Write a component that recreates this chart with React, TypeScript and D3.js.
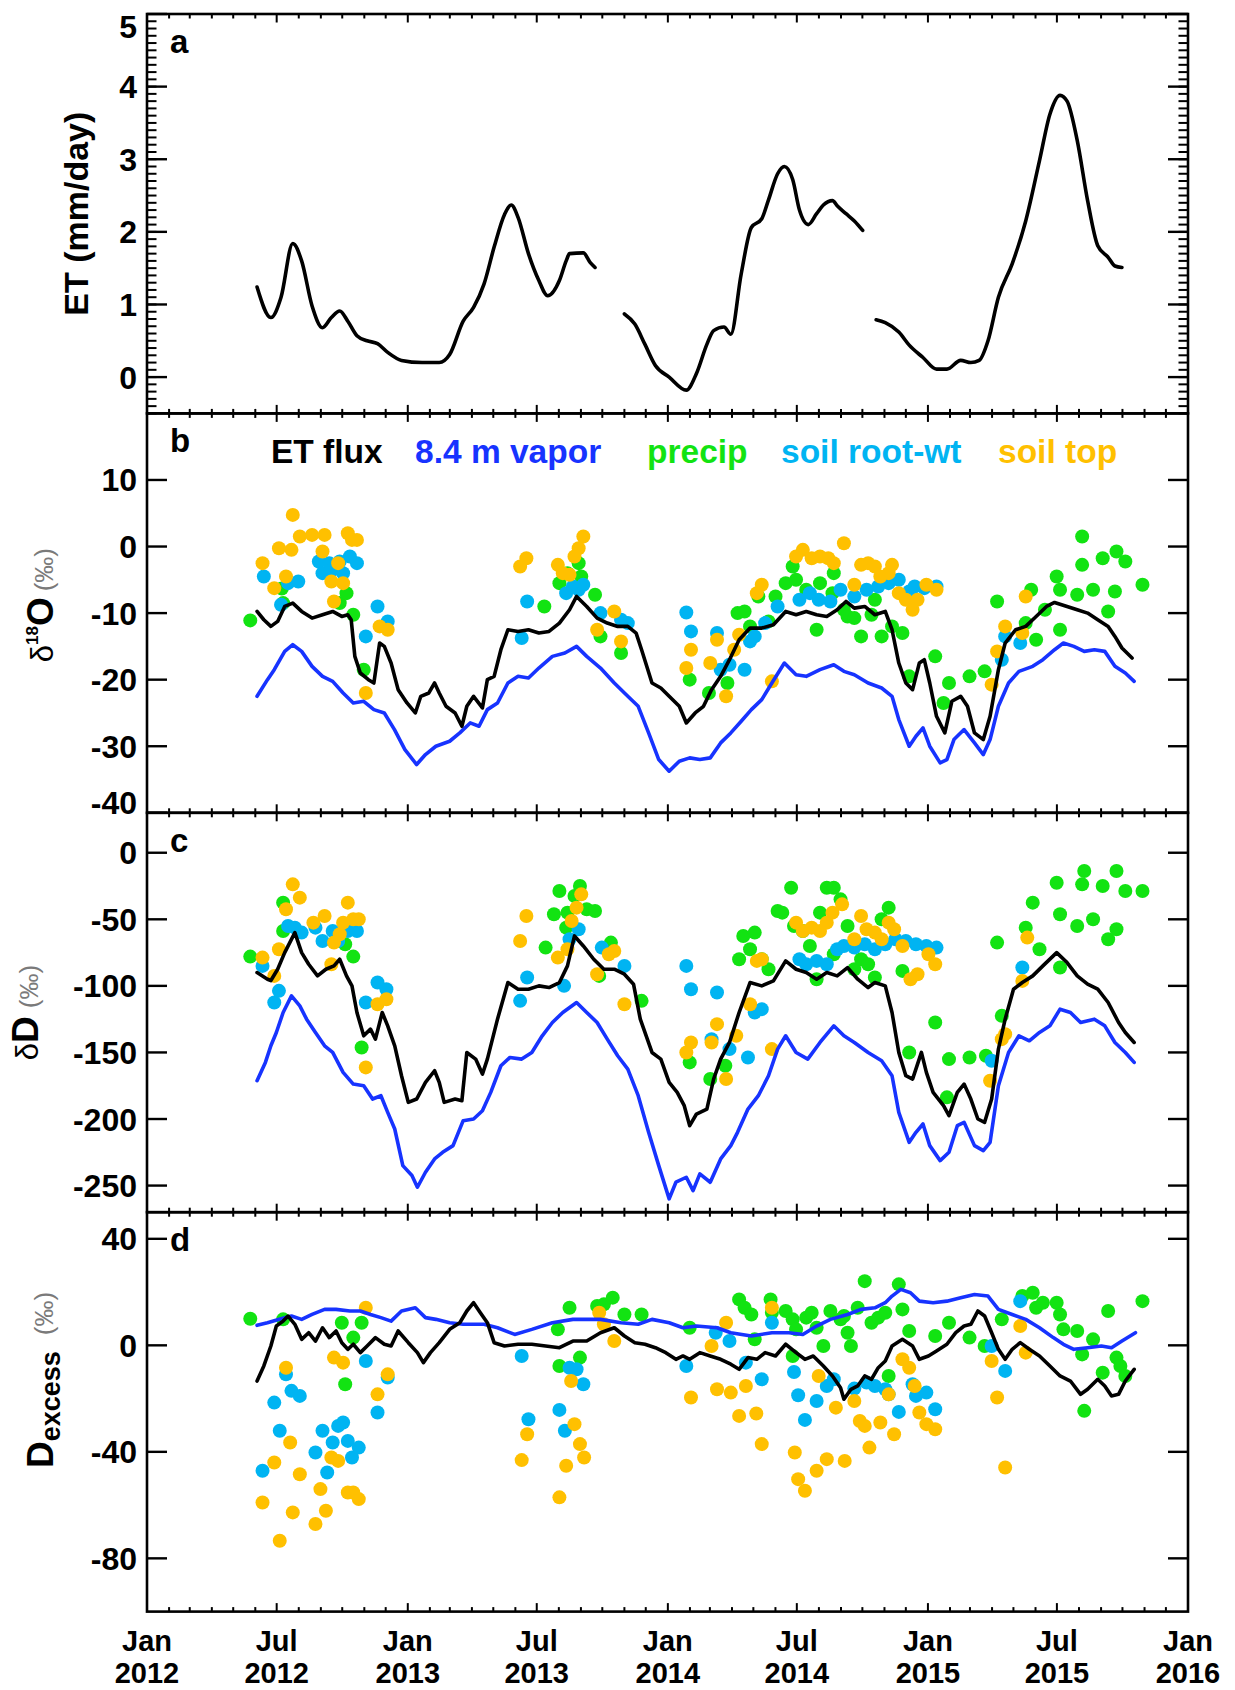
import React from "react";
import * as d3 from "d3";

type Pt = [number, number];

// ---------- panel a: evapotranspiration (mm/day), three smoothed segments ----------
const etSeg1: Pt[] = [
  [2012.422, 1.24], [2012.475, 0.82], [2012.514, 1.1], [2012.559, 1.84], [2012.593, 1.6],
  [2012.633, 0.98], [2012.673, 0.68], [2012.707, 0.82], [2012.739, 0.91], [2012.77, 0.77],
  [2012.805, 0.57], [2012.844, 0.5], [2012.884, 0.46], [2012.923, 0.34], [2012.976, 0.23],
  [2013.055, 0.2], [2013.121, 0.2], [2013.161, 0.31], [2013.213, 0.77], [2013.253, 0.96],
  [2013.293, 1.28], [2013.332, 1.79], [2013.372, 2.24], [2013.398, 2.37], [2013.424, 2.2],
  [2013.464, 1.7], [2013.504, 1.33], [2013.538, 1.12], [2013.583, 1.33], [2013.609, 1.6],
  [2013.622, 1.7], [2013.675, 1.71], [2013.701, 1.58], [2013.72, 1.51],
];
const etSeg2: Pt[] = [
  [2013.833, 0.87], [2013.873, 0.73], [2013.912, 0.45], [2013.952, 0.16], [2014.005, 0.0],
  [2014.071, -0.18], [2014.11, 0.05], [2014.15, 0.45], [2014.176, 0.64], [2014.216, 0.69],
  [2014.242, 0.59], [2014.282, 1.42], [2014.321, 2.06], [2014.361, 2.18], [2014.387, 2.44],
  [2014.422, 2.8], [2014.448, 2.9], [2014.48, 2.72], [2014.506, 2.3], [2014.54, 2.1],
  [2014.572, 2.25], [2014.598, 2.37], [2014.633, 2.43], [2014.651, 2.36], [2014.685, 2.25],
  [2014.717, 2.15], [2014.749, 2.02],
];
const etSeg3: Pt[] = [
  [2014.801, 0.79], [2014.836, 0.75], [2014.888, 0.62], [2014.928, 0.44], [2014.981, 0.27],
  [2015.033, 0.11], [2015.073, 0.11], [2015.126, 0.23], [2015.165, 0.2], [2015.197, 0.23],
  [2015.231, 0.5], [2015.271, 1.1], [2015.324, 1.56], [2015.376, 2.15], [2015.429, 2.98],
  [2015.469, 3.62], [2015.508, 3.88], [2015.535, 3.8], [2015.574, 3.26], [2015.614, 2.43],
  [2015.653, 1.81], [2015.693, 1.65], [2015.719, 1.53], [2015.746, 1.51],
];

// ---------- panel b: d18O (permil) ----------
const d18oFlux: Pt[] = [
  [2012.422, -9.75], [2012.448, -11], [2012.475, -12], [2012.501, -11.25], [2012.528, -9],
  [2012.559, -8.5], [2012.593, -9.75], [2012.633, -10.75], [2012.673, -10.25], [2012.712, -9.75],
  [2012.747, -10.5], [2012.77, -10.25], [2012.783, -11], [2012.797, -16.5], [2012.818, -19],
  [2012.849, -20], [2012.87, -20.5], [2012.892, -14.5], [2012.91, -15], [2012.936, -17.5],
  [2012.963, -21.5], [2012.997, -23.5], [2013.029, -25], [2013.05, -22.5], [2013.081, -22],
  [2013.103, -20.5], [2013.121, -22], [2013.147, -24], [2013.182, -25], [2013.208, -27],
  [2013.227, -24], [2013.253, -22.5], [2013.287, -24.25], [2013.306, -20], [2013.332, -19.5],
  [2013.358, -15.5], [2013.385, -12.5], [2013.424, -12.75], [2013.464, -12.5], [2013.504, -13],
  [2013.543, -12.75], [2013.583, -11.5], [2013.622, -9.5], [2013.649, -7.5], [2013.688, -9],
  [2013.728, -10.75], [2013.767, -11.5], [2013.807, -12], [2013.846, -12], [2013.878, -13],
  [2013.899, -15.5], [2013.939, -20.5], [2013.973, -21.25], [2014.005, -22.5], [2014.044, -24],
  [2014.071, -26.5], [2014.105, -25], [2014.137, -24], [2014.168, -21.5], [2014.203, -19.5],
  [2014.237, -17], [2014.274, -14], [2014.316, -12.25], [2014.361, -12.25], [2014.406, -11.75],
  [2014.453, -9.75], [2014.493, -10.25], [2014.532, -9.75], [2014.572, -10.25], [2014.611, -10.5],
  [2014.651, -9.5], [2014.685, -8.25], [2014.717, -9.25], [2014.757, -9], [2014.796, -10.25],
  [2014.836, -9.75], [2014.862, -12.5], [2014.888, -17.5], [2014.915, -20.5], [2014.941, -21.5],
  [2014.967, -17.5], [2014.986, -17], [2015.007, -20.5], [2015.033, -25.5], [2015.065, -28],
  [2015.092, -23.25], [2015.126, -22.5], [2015.152, -24], [2015.179, -28], [2015.213, -29],
  [2015.239, -25.5], [2015.271, -18.5], [2015.297, -14.5], [2015.337, -12.5], [2015.376, -12],
  [2015.416, -10.5], [2015.456, -9], [2015.487, -8.4], [2015.535, -9], [2015.574, -9.5],
  [2015.614, -10], [2015.653, -11], [2015.693, -12], [2015.719, -13.5], [2015.746, -15.25],
  [2015.785, -16.75],
];
const d18oVapor: Pt[] = [
  [2012.422, -22.5], [2012.462, -20], [2012.488, -18.5], [2012.528, -15.75], [2012.559, -14.75],
  [2012.593, -15.75], [2012.633, -18], [2012.673, -19.5], [2012.712, -20.25], [2012.752, -22],
  [2012.791, -23.5], [2012.831, -23.25], [2012.87, -24.5], [2012.91, -25], [2012.949, -27.5],
  [2012.989, -30.5], [2013.034, -32.75], [2013.068, -31.25], [2013.108, -30], [2013.161, -29.25],
  [2013.2, -28], [2013.24, -26.5], [2013.274, -27], [2013.306, -24.5], [2013.345, -23.5],
  [2013.385, -20.5], [2013.424, -19.5], [2013.464, -19.75], [2013.504, -18.25], [2013.556, -16.5],
  [2013.604, -16], [2013.649, -15], [2013.688, -16.5], [2013.741, -18.25], [2013.794, -20.5],
  [2013.846, -22.5], [2013.886, -24], [2013.926, -28], [2013.965, -32], [2014.005, -33.75],
  [2014.044, -32.25], [2014.084, -31.75], [2014.123, -32], [2014.163, -31.75], [2014.203, -29.5],
  [2014.242, -28], [2014.282, -26.25], [2014.321, -24.5], [2014.361, -23], [2014.4, -20.5],
  [2014.448, -17.5], [2014.493, -19.25], [2014.532, -19.5], [2014.585, -18.5], [2014.638, -17.75],
  [2014.677, -18.75], [2014.717, -19.25], [2014.77, -20.5], [2014.822, -21.25], [2014.862, -22.5],
  [2014.888, -26], [2014.928, -30], [2014.954, -28.5], [2014.981, -27.25], [2015.007, -30],
  [2015.047, -32.5], [2015.073, -32], [2015.1, -29], [2015.139, -27.5], [2015.179, -29.5],
  [2015.213, -31.25], [2015.239, -29], [2015.271, -24], [2015.31, -20.5], [2015.35, -18.75],
  [2015.403, -18], [2015.442, -17], [2015.487, -15.5], [2015.521, -14.5], [2015.561, -15],
  [2015.601, -15.75], [2015.64, -15.5], [2015.68, -15.75], [2015.719, -18], [2015.759, -19],
  [2015.793, -20.25],
];
const d18oPrecip: Pt[] = [
  [2012.396, -11.1], [2012.522, -8.5], [2012.517, -6.3], [2012.739, -8.5], [2012.765, -7],
  [2012.791, -10.25], [2012.831, -18.5], [2013.525, -9], [2013.583, -5.5], [2013.614, -4],
  [2013.657, -2.5], [2013.667, -4.5], [2013.72, -7.25], [2013.741, -13.5], [2013.82, -16],
  [2014.084, -20], [2014.158, -22], [2014.229, -20.5], [2014.268, -10], [2014.295, -9.75],
  [2014.316, -12], [2014.348, -7.5], [2014.387, -11.25], [2014.414, -7.5], [2014.453, -5.5],
  [2014.48, -3], [2014.493, -5], [2014.532, -6.5], [2014.572, -12.5], [2014.585, -5.5],
  [2014.633, -7], [2014.638, -4], [2014.677, -9.5], [2014.691, -10.5], [2014.717, -10.75],
  [2014.743, -13.5], [2014.783, -10.25], [2014.796, -8], [2014.822, -13.5], [2014.862, -12],
  [2014.902, -13], [2014.928, -19.5], [2015.028, -16.5], [2015.06, -23.5], [2015.081, -20.5],
  [2015.16, -19.5], [2015.218, -18.75], [2015.266, -8.25], [2015.376, -11.5], [2015.397, -6.5],
  [2015.416, -14], [2015.45, -9.5], [2015.495, -4.5], [2015.508, -6.5], [2015.508, -12.5],
  [2015.574, -7.25], [2015.593, -2.75], [2015.593, 1.5], [2015.635, -6.5], [2015.672, -1.75],
  [2015.693, -9.75], [2015.719, -6.75], [2015.725, -0.75], [2015.759, -2.25], [2015.825, -5.75],
];
const d18oRoot: Pt[] = [
  [2012.448, -4.5], [2012.514, -8.75], [2012.541, -5.5], [2012.58, -5.25], [2012.659, -2.25],
  [2012.673, -4], [2012.699, -2.5], [2012.712, -3.5], [2012.739, -2.25], [2012.752, -4],
  [2012.778, -1.5], [2012.805, -2.5], [2012.839, -13.5], [2012.884, -9], [2012.923, -11.25],
  [2013.438, -13.75], [2013.459, -8.25], [2013.609, -7], [2013.635, -6], [2013.657, -6.5],
  [2013.675, -5.75], [2013.741, -10], [2013.82, -11], [2013.846, -11.5], [2014.071, -9.9],
  [2014.089, -12.75], [2014.189, -13], [2014.203, -18.5], [2014.237, -17.75], [2014.295, -18.5],
  [2014.316, -14.25], [2014.334, -13.5], [2014.374, -11.5], [2014.422, -9], [2014.506, -8],
  [2014.546, -7], [2014.58, -8], [2014.625, -8.25], [2014.664, -6.5], [2014.717, -7.5],
  [2014.764, -6.5], [2014.809, -6], [2014.849, -5.5], [2014.888, -5], [2014.928, -6.75],
  [2014.949, -6], [2014.986, -6.25], [2015.033, -6], [2015.284, -17], [2015.297, -13.5],
  [2015.355, -14.5],
];
const d18oTop: Pt[] = [
  [2012.443, -2.5], [2012.488, -6.25], [2012.506, -0.25], [2012.533, -4.5], [2012.554, -0.5],
  [2012.559, 4.75], [2012.586, 1.5], [2012.633, 1.75], [2012.681, 1.75], [2012.673, -0.75],
  [2012.707, -5.25], [2012.717, -8.25], [2012.733, -2.5], [2012.752, -5.5], [2012.77, 2],
  [2012.786, 1], [2012.805, 1], [2012.839, -22], [2012.892, -12], [2012.923, -12.5],
  [2013.432, -3], [2013.456, -1.75], [2013.577, -2.75], [2013.596, -4], [2013.622, -4.25],
  [2013.641, -1.5], [2013.657, -0.25], [2013.675, 1.5], [2013.728, -12.5], [2013.794, -9.75],
  [2013.82, -14.25], [2014.071, -18.25], [2014.089, -15.5], [2014.163, -17.5], [2014.189, -14],
  [2014.224, -22.5], [2014.255, -15.5], [2014.274, -13.25], [2014.342, -7], [2014.361, -5.75],
  [2014.4, -20.25], [2014.493, -1.5], [2014.519, -0.5], [2014.553, -1.75], [2014.585, -1.5],
  [2014.617, -1.75], [2014.638, -2.5], [2014.677, 0.5], [2014.717, -5.75], [2014.743, -2.75],
  [2014.77, -2.5], [2014.796, -3], [2014.817, -4.5], [2014.849, -4], [2014.862, -2.75],
  [2014.888, -7], [2014.915, -8], [2014.941, -9.5], [2014.96, -8], [2014.994, -5.75],
  [2015.033, -6.5], [2015.245, -20.75], [2015.266, -15.75], [2015.297, -12], [2015.363, -13],
  [2015.376, -7.5],
];

// ---------- panel c: dD (permil) ----------
const dDFlux: Pt[] = [
  [2012.422, -90], [2012.462, -95], [2012.475, -96], [2012.501, -87.5], [2012.528, -75],
  [2012.567, -60], [2012.593, -75], [2012.62, -83.75], [2012.654, -92.5], [2012.686, -87.5],
  [2012.717, -85], [2012.739, -80], [2012.765, -92.5], [2012.786, -100], [2012.805, -120],
  [2012.831, -137.5], [2012.857, -132.5], [2012.876, -140], [2012.902, -120], [2012.923, -130],
  [2012.95, -145], [2012.976, -167.5], [2013.002, -187.5], [2013.034, -185], [2013.068, -172.5],
  [2013.103, -163.75], [2013.121, -172.5], [2013.14, -187.5], [2013.182, -185], [2013.208, -186.25],
  [2013.227, -150], [2013.261, -155], [2013.287, -166.25], [2013.306, -155], [2013.345, -125],
  [2013.385, -97.5], [2013.424, -102.5], [2013.464, -102.5], [2013.504, -100], [2013.543, -101.25],
  [2013.583, -97.5], [2013.614, -85], [2013.641, -62.5], [2013.675, -70], [2013.715, -80],
  [2013.754, -87.5], [2013.794, -87.5], [2013.833, -91.25], [2013.868, -98.75], [2013.894, -125],
  [2013.939, -150], [2013.973, -155], [2014.005, -172.5], [2014.036, -180], [2014.063, -190],
  [2014.084, -205], [2014.11, -196.25], [2014.15, -192.5], [2014.176, -170], [2014.203, -155],
  [2014.237, -142.5], [2014.274, -120], [2014.316, -97.5], [2014.361, -100], [2014.406, -96.25],
  [2014.453, -81.25], [2014.493, -87.5], [2014.532, -90], [2014.572, -95], [2014.611, -90],
  [2014.651, -92.5], [2014.691, -86.25], [2014.73, -95], [2014.77, -101.25], [2014.796, -97.5],
  [2014.836, -100], [2014.862, -120], [2014.888, -150], [2014.915, -167.5], [2014.941, -170],
  [2014.975, -150], [2014.994, -165], [2015.02, -180], [2015.06, -190], [2015.081, -197.5],
  [2015.113, -180], [2015.139, -173.75], [2015.165, -185], [2015.192, -200], [2015.218, -202.5],
  [2015.245, -185], [2015.271, -147.5], [2015.297, -125], [2015.329, -102.5], [2015.363, -97.5],
  [2015.403, -92.5], [2015.442, -85], [2015.495, -75], [2015.535, -82.5], [2015.574, -92.5],
  [2015.614, -98.75], [2015.653, -102.5], [2015.693, -112.5], [2015.733, -127.5], [2015.759, -135],
  [2015.793, -142.5],
];
const dDVapor: Pt[] = [
  [2012.422, -171.25], [2012.454, -157.5], [2012.475, -145], [2012.496, -135], [2012.522, -120],
  [2012.554, -107.5], [2012.586, -115], [2012.612, -125], [2012.646, -135], [2012.681, -145],
  [2012.712, -150], [2012.752, -165], [2012.791, -173.75], [2012.831, -175], [2012.865, -185],
  [2012.897, -182.5], [2012.923, -195], [2012.95, -207.5], [2012.981, -235], [2013.016, -242.5],
  [2013.037, -251.25], [2013.068, -240], [2013.103, -230], [2013.134, -225], [2013.174, -220],
  [2013.213, -201.25], [2013.253, -200], [2013.287, -193.75], [2013.319, -180], [2013.358, -160],
  [2013.393, -153.75], [2013.438, -155], [2013.477, -150], [2013.517, -137.5], [2013.556, -127.5],
  [2013.596, -120], [2013.649, -112.5], [2013.688, -120], [2013.728, -127.5], [2013.767, -140],
  [2013.807, -152.5], [2013.846, -162.5], [2013.886, -182.5], [2013.926, -210], [2013.965, -235],
  [2014.005, -260], [2014.031, -247.5], [2014.071, -243.75], [2014.097, -253.75], [2014.123, -241.25],
  [2014.163, -247.5], [2014.203, -230], [2014.242, -220], [2014.268, -210], [2014.308, -192.5],
  [2014.348, -182.5], [2014.387, -167.5], [2014.422, -147.5], [2014.453, -137.5], [2014.493, -150],
  [2014.538, -155], [2014.585, -142.5], [2014.638, -130], [2014.677, -137.5], [2014.717, -142.5],
  [2014.77, -150], [2014.822, -156.25], [2014.862, -167.5], [2014.888, -195], [2014.928, -217.5],
  [2014.954, -210], [2014.981, -203.75], [2015.007, -220], [2015.047, -231.25], [2015.081, -225],
  [2015.113, -205], [2015.139, -202.5], [2015.179, -220], [2015.213, -223.75], [2015.239, -217.5],
  [2015.271, -175], [2015.31, -150], [2015.35, -137.5], [2015.39, -141.25], [2015.429, -135],
  [2015.469, -130], [2015.508, -117.5], [2015.548, -120], [2015.587, -127.5], [2015.64, -125],
  [2015.68, -130], [2015.719, -142.5], [2015.759, -150], [2015.793, -157.5],
];
const dDPrecip: Pt[] = [
  [2012.396, -78], [2012.522, -37.5], [2012.522, -58.75], [2012.76, -68.75], [2012.791, -78],
  [2012.823, -146.25], [2013.53, -71.25], [2013.562, -46.25], [2013.583, -28.75], [2013.609, -56.25],
  [2013.614, -45], [2013.641, -32.5], [2013.662, -25], [2013.688, -42.5], [2013.72, -43.75],
  [2013.781, -67.5], [2013.736, -92.5], [2013.899, -111.25], [2014.084, -157.5], [2014.163, -170],
  [2014.221, -160], [2014.274, -80], [2014.29, -62.5], [2014.316, -72.5], [2014.334, -60],
  [2014.361, -80], [2014.387, -87.5], [2014.422, -43.75], [2014.44, -45], [2014.474, -26.25],
  [2014.485, -55], [2014.519, -58.75], [2014.546, -70], [2014.572, -95], [2014.585, -45],
  [2014.611, -26.25], [2014.638, -26.25], [2014.638, -76.25], [2014.664, -35], [2014.691, -55],
  [2014.717, -87.5], [2014.743, -80], [2014.77, -83.75], [2014.796, -93.75], [2014.822, -50],
  [2014.849, -41.25], [2014.902, -88.75], [2014.928, -150], [2015.028, -127.5], [2015.073, -183.75],
  [2015.081, -155], [2015.16, -153.75], [2015.223, -152.5], [2015.266, -67.5], [2015.284, -122.5],
  [2015.376, -56.25], [2015.403, -37.5], [2015.429, -72.5], [2015.495, -22.5], [2015.508, -46.25],
  [2015.508, -86.25], [2015.574, -55], [2015.593, -23.75], [2015.601, -13.75], [2015.635, -50],
  [2015.672, -25], [2015.693, -65], [2015.725, -57.5], [2015.725, -13.75], [2015.759, -28.75],
  [2015.825, -28.75],
];
const dDRoot: Pt[] = [
  [2012.443, -85], [2012.488, -112.5], [2012.506, -103.75], [2012.541, -55], [2012.567, -56.25],
  [2012.593, -60], [2012.646, -56.25], [2012.673, -66.25], [2012.712, -58.75], [2012.733, -66.25],
  [2012.77, -58.75], [2012.805, -58.75], [2012.839, -112.5], [2012.884, -97.5], [2012.918, -102.5],
  [2013.432, -111.25], [2013.459, -93.75], [2013.601, -100], [2013.622, -65], [2013.657, -57.5],
  [2013.746, -71.25], [2013.833, -85], [2014.071, -85], [2014.089, -102.5], [2014.189, -105],
  [2014.168, -140], [2014.237, -147.5], [2014.308, -153.75], [2014.334, -120], [2014.361, -117.5],
  [2014.506, -80], [2014.532, -83.75], [2014.572, -81.25], [2014.611, -83.75], [2014.651, -72.5],
  [2014.677, -70], [2014.717, -71.25], [2014.757, -68.75], [2014.796, -72.5], [2014.836, -68.75],
  [2014.875, -65], [2014.915, -66.25], [2014.954, -68.75], [2014.994, -70], [2015.033, -71.25],
  [2015.245, -156.25], [2015.363, -86.25],
];
const dDTop: Pt[] = [
  [2012.443, -78.75], [2012.488, -92.5], [2012.506, -72.5], [2012.533, -42.5], [2012.559, -23.75],
  [2012.586, -33.75], [2012.638, -52.5], [2012.681, -47.5], [2012.707, -83.75], [2012.717, -67.5],
  [2012.739, -61.25], [2012.752, -52.5], [2012.77, -37.5], [2012.791, -50], [2012.812, -50],
  [2012.839, -161.25], [2012.884, -113.75], [2012.918, -110], [2013.432, -66.25], [2013.456, -47.5],
  [2013.577, -78.75], [2013.614, -72.5], [2013.63, -51.25], [2013.649, -41.25], [2013.667, -31.25],
  [2013.728, -91.25], [2013.773, -76.25], [2013.794, -73.75], [2013.833, -113.75], [2014.071, -150],
  [2014.089, -142.5], [2014.168, -142.5], [2014.189, -128.75], [2014.224, -170], [2014.263, -137.5],
  [2014.316, -113.75], [2014.342, -81.25], [2014.361, -80], [2014.4, -147.5], [2014.493, -52.5],
  [2014.519, -58.75], [2014.553, -56.25], [2014.585, -58.75], [2014.611, -52.5], [2014.633, -45],
  [2014.67, -38.75], [2014.717, -65], [2014.743, -47.5], [2014.764, -57.5], [2014.796, -60],
  [2014.822, -65], [2014.849, -52.5], [2014.87, -57.5], [2014.902, -70], [2014.933, -95],
  [2014.96, -91.25], [2015.002, -76.25], [2015.028, -83.75], [2015.239, -171.25], [2015.284, -140],
  [2015.297, -136.25], [2015.363, -96.25], [2015.382, -63.75],
];

// ---------- panel d: deuterium excess (permil) ----------
const dxsFlux: Pt[] = [
  [2012.422, -13.4], [2012.448, -7.75], [2012.475, -0.25], [2012.496, 7.25], [2012.522, 9.1],
  [2012.541, 11], [2012.567, 7.9], [2012.593, 2.25], [2012.62, 4.75], [2012.646, 1.6],
  [2012.673, 6.6], [2012.699, 2.9], [2012.725, 5.4], [2012.747, 1], [2012.77, -1.5],
  [2012.791, 0.4], [2012.818, -2.75], [2012.844, -0.25], [2012.876, 2.9], [2012.91, 0.4],
  [2012.936, -0.25], [2012.963, 5.4], [2013.002, 1], [2013.037, -2.75], [2013.06, -6.5],
  [2013.087, -2.75], [2013.121, 1], [2013.161, 6], [2013.2, 8.5], [2013.227, 12.9],
  [2013.253, 16], [2013.279, 12.25], [2013.306, 8.5], [2013.332, 1], [2013.372, -0.25],
  [2013.424, 0.4], [2013.477, 0.4], [2013.53, -0.25], [2013.583, -0.9], [2013.635, 1.6],
  [2013.688, 1.6], [2013.741, 4.75], [2013.794, 6.6], [2013.833, 3.5], [2013.873, 1],
  [2013.912, 0.4], [2013.952, -0.9], [2013.992, -2.75], [2014.031, -5.25], [2014.058, -4],
  [2014.084, -5.25], [2014.123, -2.75], [2014.163, -4], [2014.203, -5.25], [2014.242, -7.1],
  [2014.274, -9], [2014.308, -4.6], [2014.342, -5.25], [2014.374, -2.75], [2014.414, -4],
  [2014.453, 0.4], [2014.493, -2.75], [2014.527, -5.25], [2014.559, -4], [2014.598, -7.75],
  [2014.633, -11.5], [2014.664, -15.9], [2014.677, -20.25], [2014.704, -16.5], [2014.73, -15.25],
  [2014.757, -11.5], [2014.783, -12.75], [2014.809, -8.4], [2014.836, -5.9], [2014.862, -0.25],
  [2014.902, 2.25], [2014.941, -0.25], [2014.967, -5.25], [2015.002, -4], [2015.033, -2.1],
  [2015.073, 0.4], [2015.107, 4.75], [2015.139, 7.25], [2015.165, 7.9], [2015.192, 12.9],
  [2015.218, 11], [2015.245, 4.75], [2015.271, -1.5], [2015.297, -5.25], [2015.324, -1.5],
  [2015.355, 1], [2015.39, -1.5], [2015.429, -4], [2015.469, -7.75], [2015.508, -11.5],
  [2015.548, -13.4], [2015.587, -18.4], [2015.614, -16.5], [2015.653, -12.75], [2015.68, -15.25],
  [2015.706, -19], [2015.733, -18.4], [2015.759, -13.4], [2015.793, -9],
];
const dxsVapor: Pt[] = [
  [2012.422, 7.5], [2012.462, 8.5], [2012.514, 10], [2012.554, 11], [2012.593, 9.75],
  [2012.633, 11.6], [2012.681, 13.5], [2012.725, 13.5], [2012.778, 12.9], [2012.818, 12.9],
  [2012.857, 11.6], [2012.897, 10.4], [2012.936, 9.1], [2012.976, 12.9], [2013.029, 14.1],
  [2013.068, 10.4], [2013.108, 9.75], [2013.161, 8.5], [2013.213, 7.9], [2013.293, 7.9],
  [2013.345, 6.6], [2013.411, 4.1], [2013.477, 6], [2013.556, 8.5], [2013.635, 9.75],
  [2013.741, 9.75], [2013.82, 8.5], [2013.886, 7.9], [2013.939, 9.75], [2014.005, 8.5],
  [2014.058, 6.6], [2014.11, 7.25], [2014.189, 6.6], [2014.242, 4.75], [2014.321, 3.5],
  [2014.4, 4.75], [2014.466, 4.75], [2014.519, 4.1], [2014.572, 7.25], [2014.625, 9.75],
  [2014.691, 11.6], [2014.743, 13.5], [2014.796, 14.1], [2014.836, 16], [2014.862, 18.5],
  [2014.896, 21], [2014.933, 19.75], [2014.967, 16.6], [2015.02, 16], [2015.073, 16.6],
  [2015.126, 17.9], [2015.179, 19.1], [2015.231, 18.5], [2015.271, 13.5], [2015.324, 11.6],
  [2015.376, 9.75], [2015.429, 6.6], [2015.482, 2.9], [2015.521, 0.4], [2015.561, -1.5],
  [2015.614, -0.9], [2015.667, -0.25], [2015.706, -0.9], [2015.746, 1.6], [2015.798, 4.75],
];
const dxsPrecip: Pt[] = [
  [2012.396, 10], [2012.522, 9.75], [2012.747, 8.5], [2012.791, 2.9], [2012.823, 8.5],
  [2012.76, -14.6], [2013.577, 6], [2013.583, -7.75], [2013.622, 14.1], [2013.662, -4.6],
  [2013.728, 14.75], [2013.754, 15.4], [2013.788, 17.9], [2013.833, 11.6], [2013.899, 11.6],
  [2014.084, 6.6], [2014.274, 17.25], [2014.295, 14.1], [2014.321, 11.6], [2014.334, 2.25],
  [2014.395, 17.25], [2014.4, 12.25], [2014.453, 12.9], [2014.48, 9.75], [2014.493, 6],
  [2014.48, -4], [2014.532, 10.4], [2014.553, 12.25], [2014.572, 6.6], [2014.598, -0.25],
  [2014.625, 12.9], [2014.664, 9.75], [2014.677, 11], [2014.691, 4.75], [2014.704, -0.25],
  [2014.73, 14.1], [2014.757, 24.1], [2014.783, 8.5], [2014.809, 10.4], [2014.836, 12.25],
  [2014.849, -11.5], [2014.888, 22.9], [2014.902, 13.5], [2014.928, 5.4], [2015.028, 3.5],
  [2015.081, 8.5], [2015.16, 2.9], [2015.218, -0.25], [2015.284, 9.75], [2015.363, 18.5],
  [2015.403, 19.75], [2015.416, 14.1], [2015.442, 16], [2015.495, 16], [2015.508, 11.6],
  [2015.521, 6], [2015.574, 5.4], [2015.593, -3.4], [2015.601, -24.6], [2015.635, 2.25],
  [2015.672, -10.25], [2015.693, 12.9], [2015.725, -4.6], [2015.74, -7.75], [2015.759, -11.5],
  [2015.825, 16.6],
];
const dxsRoot: Pt[] = [
  [2012.443, -47.1], [2012.488, -21.5], [2012.509, -32.1], [2012.533, -10.9], [2012.554, -17.1],
  [2012.586, -19], [2012.646, -40.25], [2012.673, -32.1], [2012.691, -47.75], [2012.712, -36.5],
  [2012.733, -30.25], [2012.752, -29], [2012.77, -35.9], [2012.786, -42.1], [2012.812, -38.4],
  [2012.839, -5.9], [2012.884, -25.25], [2012.923, -12.1], [2013.438, -4], [2013.464, -27.75],
  [2013.583, -24.25], [2013.604, -32.1], [2013.622, -8.4], [2013.649, -9], [2013.675, -14.6],
  [2014.071, -7.75], [2014.184, 4.75], [2014.237, 1.6], [2014.3, -6.5], [2014.361, -12.75],
  [2014.4, 8.5], [2014.485, -10], [2014.501, -18.75], [2014.527, -28], [2014.572, -20.9],
  [2014.611, -15.25], [2014.638, -12.75], [2014.717, -16.25], [2014.764, -14], [2014.796, -15.25],
  [2014.836, -16.5], [2014.849, -18.4], [2014.888, -25], [2014.941, -14.6], [2014.954, -19],
  [2014.994, -17.75], [2015.028, -24], [2015.245, -0.25], [2015.297, -9.6], [2015.355, 16.6],
];
const dxsTop: Pt[] = [
  [2012.443, -59], [2012.488, -44], [2012.509, -73.4], [2012.533, -8.4], [2012.549, -36.5],
  [2012.559, -62.75], [2012.586, -48.4], [2012.646, -67.1], [2012.665, -54], [2012.686, -62.1],
  [2012.707, -42.1], [2012.717, -4.6], [2012.733, -43.4], [2012.752, -6.5], [2012.77, -55.25],
  [2012.791, -55.25], [2012.812, -57.75], [2012.839, 14.1], [2012.884, -18.4], [2012.923, -10.9],
  [2013.438, -43.1], [2013.459, -33.4], [2013.583, -57.1], [2013.609, -45.25], [2013.628, -13.4],
  [2013.641, -29.6], [2013.662, -37.1], [2013.678, -42.1], [2013.736, 12.25], [2013.754, 7.9],
  [2013.794, 1.6], [2014.089, -19.6], [2014.168, -0.25], [2014.189, -16.5], [2014.224, 8.5],
  [2014.242, -17.75], [2014.274, -26.5], [2014.3, -15.25], [2014.34, -25.6], [2014.361, -37.1],
  [2014.4, 14.1], [2014.488, -40.25], [2014.501, -50.25], [2014.527, -54.6], [2014.572, -47.1],
  [2014.58, -11.5], [2014.611, -42.75], [2014.646, -23.4], [2014.68, -43.4], [2014.717, -20.9],
  [2014.738, -28.4], [2014.757, -30.25], [2014.775, -38.4], [2014.817, -29], [2014.849, -18.4],
  [2014.87, -33.4], [2014.902, -5.25], [2014.928, -8.4], [2014.949, -15.25], [2014.967, -25.25],
  [2014.994, -29.6], [2015.028, -31.5], [2015.245, -5.9], [2015.266, -19.6], [2015.297, -45.9],
  [2015.355, 7.25], [2015.376, -2.75],
];

// ---------- axis ticks ----------
const etTicks = [0, 1, 2, 3, 4, 5];
const d18oTicks = [10, 0, -10, -20, -30, -40];
const dDTicks = [0, -50, -100, -150, -200, -250];
const dxsTicks = [40, 0, -40, -80];
const monthNames = ["Jan", "Jul"];

// ---------- styling ----------
const COL = {
  flux: "#000000",
  vapor: "#1733ff",
  precip: "#12e312",
  root: "#00b4f2",
  top: "#ffc000",
  unit: "#7a7a7a",
};
const FONT = "'Liberation Sans', Arial, Helvetica, sans-serif";

const W = 1235;
const H = 1690;
const LEFT = 147;
const RIGHT = 1188;
const TOP = 14;
const PH = 399.4;

function toDate(dy: number): Date {
  const yr = Math.floor(dy);
  const a = Date.UTC(yr, 0, 1);
  const b = Date.UTC(yr + 1, 0, 1);
  return new Date(a + (dy - yr) * (b - a));
}

const x = d3
  .scaleUtc()
  .domain([new Date(Date.UTC(2012, 0, 1)), new Date(Date.UTC(2016, 0, 1))])
  .range([LEFT, RIGHT]);

const months = d3.utcMonth.range(new Date(Date.UTC(2012, 0, 1)), new Date(Date.UTC(2016, 0, 2)));

type Series = { data: Pt[]; color: string };
type PanelDef = {
  key: string;
  letter: string;
  domain: [number, number];
  ticks: number[];
  minor?: number;
  lines: Series[];
  smooth?: boolean;
  dots: Series[];
};

const panels: PanelDef[] = [
  {
    key: "a",
    letter: "a",
    domain: [-0.5, 5],
    ticks: etTicks,
    minor: 0.1,
    smooth: true,
    lines: [
      { data: etSeg1, color: COL.flux },
      { data: etSeg2, color: COL.flux },
      { data: etSeg3, color: COL.flux },
    ],
    dots: [],
  },
  {
    key: "b",
    letter: "b",
    domain: [-40, 20],
    ticks: d18oTicks,
    lines: [
      { data: d18oVapor, color: COL.vapor },
      { data: d18oFlux, color: COL.flux },
    ],
    dots: [
      { data: d18oPrecip, color: COL.precip },
      { data: d18oRoot, color: COL.root },
      { data: d18oTop, color: COL.top },
    ],
  },
  {
    key: "c",
    letter: "c",
    domain: [-270, 30],
    ticks: dDTicks,
    lines: [
      { data: dDVapor, color: COL.vapor },
      { data: dDFlux, color: COL.flux },
    ],
    dots: [
      { data: dDPrecip, color: COL.precip },
      { data: dDRoot, color: COL.root },
      { data: dDTop, color: COL.top },
    ],
  },
  {
    key: "d",
    letter: "d",
    domain: [-100, 50],
    ticks: dxsTicks,
    lines: [
      { data: dxsVapor, color: COL.vapor },
      { data: dxsFlux, color: COL.flux },
    ],
    dots: [
      { data: dxsPrecip, color: COL.precip },
      { data: dxsRoot, color: COL.root },
      { data: dxsTop, color: COL.top },
    ],
  },
];

function Panel({ def, index }: { def: PanelDef; index: number }) {
  const y0 = TOP + index * PH;
  const y1 = y0 + PH;
  const y = d3.scaleLinear().domain(def.domain).range([y1, y0]);
  const line = d3
    .line<Pt>()
    .x((d) => x(toDate(d[0])))
    .y((d) => y(d[1]))
    .curve(def.smooth ? d3.curveMonotoneX : d3.curveLinear);

  const minorTicks = def.minor
    ? d3.range(def.domain[0], def.domain[1] + 1e-9, def.minor).map((v) => Math.round(v * 10) / 10)
    : [];

  return (
    <g>
      <defs>
        <clipPath id={`clip-${def.key}`}>
          <rect x={LEFT} y={y0} width={RIGHT - LEFT} height={PH} />
        </clipPath>
      </defs>
      <g clipPath={`url(#clip-${def.key})`}>
        {def.dots.map((s, i) => (
          <g key={i} fill={s.color}>
            {s.data.map((d, j) => (
              <circle key={j} cx={x(toDate(d[0]))} cy={y(d[1])} r={7} />
            ))}
          </g>
        ))}
        {def.lines.map((s, i) => (
          <path
            key={i}
            d={line(s.data) || ""}
            fill="none"
            stroke={s.color}
            strokeWidth={3.6}
            strokeLinejoin="round"
            strokeLinecap="round"
          />
        ))}
      </g>
      {/* month ticks, top and bottom, pointing inward */}
      <g stroke="#000" strokeWidth={2}>
        {months.map((m, i) => {
          const major = m.getUTCMonth() % 6 === 0;
          const len = major ? 8.5 : 4.5;
          const xx = x(m);
          return (
            <g key={i}>
              <line x1={xx} x2={xx} y1={y0} y2={y0 + len} />
              <line x1={xx} x2={xx} y1={y1} y2={y1 - len} />
            </g>
          );
        })}
        {minorTicks.map((v, i) => (
          <g key={`m${i}`}>
            <line x1={LEFT} x2={LEFT + 9.5} y1={y(v)} y2={y(v)} />
            <line x1={RIGHT} x2={RIGHT - 9.5} y1={y(v)} y2={y(v)} />
          </g>
        ))}
        {def.ticks.map((v, i) => (
          <g key={`t${i}`} strokeWidth={2.4}>
            <line x1={LEFT} x2={LEFT + 20} y1={y(v)} y2={y(v)} />
            <line x1={RIGHT} x2={RIGHT - 20} y1={y(v)} y2={y(v)} />
          </g>
        ))}
      </g>
      <rect
        x={LEFT}
        y={y0}
        width={RIGHT - LEFT}
        height={PH}
        fill="none"
        stroke="#000"
        strokeWidth={2.6}
      />
      {/* tick labels */}
      <g fontFamily={FONT} fontWeight="bold" fontSize={32} textAnchor="end">
        {def.ticks.map((v, i) => {
          const cy = Math.min(Math.max(y(v), y0 + 12), y1 - 10);
          return (
            <text key={i} x={137} y={cy} dy="0.36em">
              {String(v)}
            </text>
          );
        })}
      </g>
      <text x={170} y={y0 + 39} fontFamily={FONT} fontWeight="bold" fontSize={33}>
        {def.letter}
      </text>
    </g>
  );
}

const legendItems = [
  { label: "ET flux", color: COL.flux, x: 271 },
  { label: "8.4 m vapor", color: COL.vapor, x: 415 },
  { label: "precip", color: COL.precip, x: 647 },
  { label: "soil root-wt", color: COL.root, x: 781 },
  { label: "soil top", color: COL.top, x: 998 },
];

export default function App() {
  const bottom = TOP + 4 * PH;
  const majorDates = months.filter((m) => m.getUTCMonth() % 6 === 0);
  return (
    <svg
      width={W}
      height={H}
      viewBox={`0 0 ${W} ${H}`}
      style={{ position: "absolute", left: 0, top: 0, background: "#fff" }}
    >
      <rect x={0} y={0} width={W} height={H} fill="#fff" />
      {panels.map((p, i) => (
        <Panel key={p.key} def={p} index={i} />
      ))}

      {/* legend in panel b */}
      <g fontFamily={FONT} fontWeight="bold" fontSize={33.5}>
        {legendItems.map((l) => (
          <text key={l.label} x={l.x} y={TOP + PH + 50} fill={l.color}>
            {l.label}
          </text>
        ))}
      </g>

      {/* x-axis date labels: month on the first line, year below */}
      <g fontFamily={FONT} fontWeight="bold" fontSize={29} textAnchor="middle">
        {majorDates.map((m, i) => (
          <g key={i}>
            <text x={x(m)} y={bottom + 39}>
              {monthNames[m.getUTCMonth() === 0 ? 0 : 1]}
            </text>
            <text x={x(m)} y={bottom + 71.5}>
              {m.getUTCFullYear()}
            </text>
          </g>
        ))}
      </g>

      {/* y-axis titles */}
      <text
        transform={`translate(88, ${TOP + 0.5 * PH}) rotate(-90)`}
        textAnchor="middle"
        fontFamily={FONT}
        fontWeight="bold"
        fontSize={34}
      >
        ET (mm/day)
      </text>
      <text
        transform={`translate(53, ${TOP + 1.48 * PH}) rotate(-90)`}
        textAnchor="middle"
        fontFamily={FONT}
      >
        <tspan fontSize={31}>δ</tspan>
        <tspan fontSize={17} fontWeight="bold" dy={-15}>18</tspan>
        <tspan fontSize={37} fontWeight="bold" dy={15}>O</tspan>
        <tspan fontSize={26} fill={COL.unit} dx={6}>(‰)</tspan>
      </text>
      <text
        transform={`translate(38, ${TOP + 2.5 * PH}) rotate(-90)`}
        textAnchor="middle"
        fontFamily={FONT}
      >
        <tspan fontSize={31}>δ</tspan>
        <tspan fontSize={37} fontWeight="bold">D</tspan>
        <tspan fontSize={26} fill={COL.unit} dx={8}>(‰)</tspan>
      </text>
      <text
        transform={`translate(53, ${TOP + 3.42 * PH}) rotate(-90)`}
        textAnchor="middle"
        fontFamily={FONT}
      >
        <tspan fontSize={37} fontWeight="bold">D</tspan>
        <tspan fontSize={27} fontWeight="bold" dy={7}>excess</tspan>
        <tspan fontSize={26} fill={COL.unit} dx={16} dy={-7}>(‰)</tspan>
      </text>
    </svg>
  );
}
